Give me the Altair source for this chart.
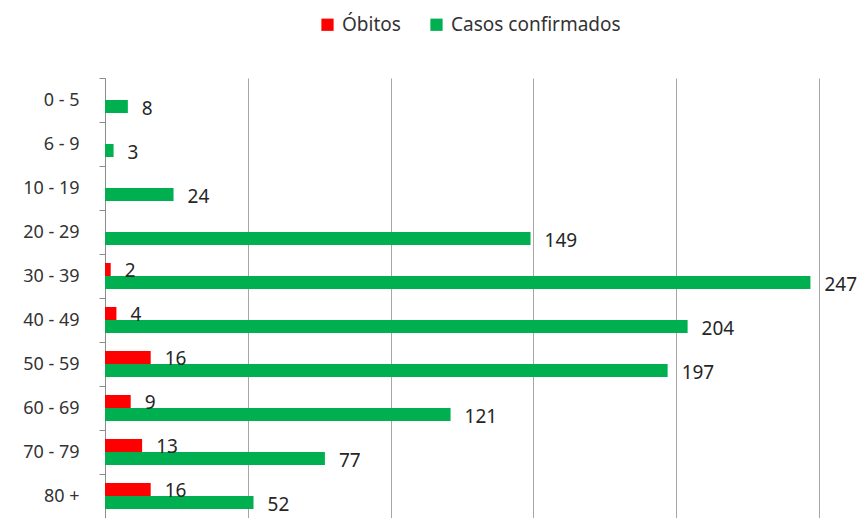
import altair as alt
import pandas as pd

faixas = ["0 - 5", "6 - 9", "10 - 19", "20 - 29", "30 - 39", "40 - 49",
          "50 - 59", "60 - 69", "70 - 79", "80 +"]
obitos = [0, 0, 0, 0, 2, 4, 16, 9, 13, 16]
casos = [8, 3, 24, 149, 247, 204, 197, 121, 77, 52]
series = ["Óbitos", "Casos confirmados"]
cores = ["#FF0000", "#00B050"]

rows = []
for f, o, c in zip(faixas, obitos, casos):
    rows.append({"faixa": f, "serie": series[0], "valor": o})
    rows.append({"faixa": f, "serie": series[1], "valor": c})
df = pd.DataFrame(rows)

FONT = "Noto Sans"

y_enc = alt.Y("faixa:N", sort=faixas, title=None,
              scale=alt.Scale(paddingInner=0, paddingOuter=0),
              axis=alt.Axis(tickBand="extent", tickSize=6, labelPadding=20,
                            labelFontSize=18, labelColor="#333333",
                            labelFont=FONT, domainColor="#8C8C8C",
                            tickColor="#8C8C8C", grid=False))
yoff = alt.YOffset("serie:N", sort=series,
                   scale=alt.Scale(paddingOuter=0.69, paddingInner=0))
x_enc = alt.X("valor:Q", title=None,
              scale=alt.Scale(domain=[0, 250], nice=False),
              axis=alt.Axis(values=[0, 50, 100, 150, 200, 250], labels=False,
                            ticks=False, domain=False, grid=True,
                            gridColor="#A6A6A6", gridWidth=1))

bars = alt.Chart(df).mark_bar(height=13).encode(
    y=y_enc, yOffset=yoff, x=x_enc,
    color=alt.Color("serie:N", sort=series,
                    scale=alt.Scale(domain=series, range=cores),
                    legend=alt.Legend(title=None, orient="none",
                                      direction="horizontal",
                                      legendX=213, legendY=-63,
                                      symbolType="square", symbolSize=150,
                                      symbolStrokeWidth=0,
                                      labelFontSize=19, labelFont=FONT,
                                      labelColor="#333333", labelLimit=400,
                                      columnPadding=26, labelOffset=5)),
)

labels = alt.Chart(df).transform_filter("datum.valor > 0").mark_text(
    align="left", baseline="middle", dx=14, dy=2, fontSize=19,
    font=FONT, color="#262626"
).encode(
    y=alt.Y("faixa:N", sort=faixas), yOffset=yoff,
    x=alt.X("valor:Q"), text=alt.Text("valor:Q"),
)

chart = alt.layer(bars, labels).properties(
    width=714, height=440,
    autosize=alt.AutoSizeParams(type="none"),
    padding={"left": 97, "top": 70, "right": 39, "bottom": 0},
    background="white",
).configure_view(strokeWidth=0)

chart.save("out.html", embed_options={"renderer": "svg", "actions": False})
